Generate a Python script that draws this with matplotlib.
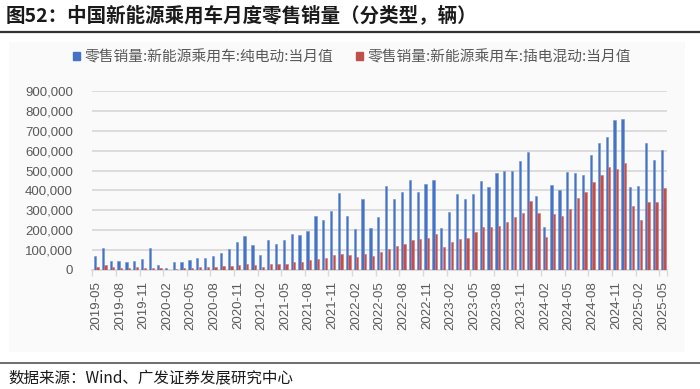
import matplotlib
matplotlib.use("Agg")
import matplotlib.pyplot as plt
from matplotlib.patches import Rectangle
from matplotlib.lines import Line2D
from matplotlib.ticker import FuncFormatter, FixedLocator
import numpy as np

plt.rcParams['font.family'] = ['Noto Sans CJK SC', 'DejaVu Sans']

# ---- data ----
months = []
for y in range(2019, 2026):
    for m in range(1, 13):
        if (y == 2019 and m < 5) or (y == 2025 and m > 5):
            continue
        months.append(f"{y}-{m:02d}")

bev = [70, 110, 47, 47, 42, 44, 53, 112,
       27, 8, 40, 38, 48, 62, 62, 72, 85, 106, 141, 169,
       124, 77, 152, 129, 152, 183, 174, 196, 273, 251, 298, 389,
       271, 204, 357, 209, 265, 420, 358, 394, 452, 394, 432, 452,
       211, 291, 382, 357, 383, 446, 417, 487, 496, 496, 548, 595,
       372, 216, 427, 402, 492, 489, 479, 576, 637, 668, 752, 757,
       415, 422, 640, 554, 601]
phev = [15, 23, 13, 12, 12, 13, 12, 12,
        8, 2, 7, 10, 12, 13, 13, 15, 18, 22, 23, 30,
        25, 13, 28, 28, 28, 40, 42, 49, 55, 59, 74, 80,
        75, 64, 82, 69, 89, 106, 121, 131, 152, 156, 161, 181,
        116, 142, 157, 161, 189, 214, 216, 221, 243, 268, 285, 345,
        288, 166, 280, 270, 307, 360, 394, 442, 476, 518, 508, 538,
        322, 253, 343, 342, 410]
bev = [v * 1000 for v in bev]
phev = [v * 1000 for v in phev]

series_names = ["零售销量:新能源乘用车:纯电动:当月值", "零售销量:新能源乘用车:插电混动:当月值"]
title = "图52：中国新能源乘用车月度零售销量（分类型，辆）"
source = "数据来源：Wind、广发证券发展研究中心"
yticks = list(range(0, 900001, 100000))

# ---- figure ----
W, H = 700, 389
fig = plt.figure(figsize=(W / 100, H / 100), dpi=100)
fig.patch.set_facecolor("white")

def fx(px): return px / W
def fy(py): return 1 - py / H

# faint panel
fig.patches.append(Rectangle((fx(9), fy(352)), fx(676), (352 - 42) / H,
                             transform=fig.transFigure, facecolor="#fafafa",
                             edgecolor="none", zorder=-5))
# lines
fig.add_artist(Line2D([0, 1], [fy(32), fy(32)], color="#333333", lw=1.6, transform=fig.transFigure))
fig.add_artist(Line2D([0, 1], [fy(362.5), fy(362.5)], color="#555555", lw=1.2, transform=fig.transFigure))

fig.text(fx(6), fy(16), title, fontsize=14, fontweight="bold", color="#1a1a1a",
         va="center", ha="left")
fig.text(fx(8), fy(379), source, fontsize=11.2, color="#1a1a1a", va="center", ha="left")

ax = fig.add_axes([fx(92.3), fy(270), fx(667 - 92.3), (270 - 91) / H], zorder=3)
ax.set_facecolor("none")

x = np.arange(len(months))
w = 0.29
blue = "#4472C4"
red = "#C0504D"
ax.bar(x - w / 2 - 0.02, bev, width=w, color=blue, edgecolor="#6d94d6", linewidth=0.4, zorder=3)
ax.bar(x + w / 2 + 0.02, phev, width=w, color=red, edgecolor="#d27572", linewidth=0.4, zorder=3)

ax.set_xlim(-0.5, len(months) - 0.5)
ax.set_ylim(0, 900000)
ax.set_yticks(yticks)
ax.yaxis.set_major_formatter(FuncFormatter(lambda v, p: f"{int(v):,}"))
ax.grid(axis="y", color="#d9d9d9", lw=1.3, zorder=0)
ax.set_axisbelow(True)

lab_idx = list(range(0, len(months), 3))
ax.set_xticks(lab_idx)
ax.set_xticklabels([months[i] for i in lab_idx], rotation=90, fontsize=9.5,
                   color="#595959", family=["Liberation Sans", "DejaVu Sans"])
ax.xaxis.set_minor_locator(FixedLocator([i - 0.5 for i in lab_idx] + [len(months) - 0.5]))
ax.tick_params(axis="x", which="major", length=0, pad=8)
ax.tick_params(axis="x", which="minor", length=4, color="#d9d9d9", width=1)
ax.tick_params(axis="y", length=0, pad=14, labelsize=9.5, labelcolor="#595959")
for t in ax.get_yticklabels():
    t.set_family(["Liberation Sans", "DejaVu Sans"])
for s in ["top", "right", "left"]:
    ax.spines[s].set_visible(False)
ax.spines["bottom"].set_color("#d9d9d9")
ax.spines["bottom"].set_linewidth(1.3)

# legend
handles = [Rectangle((0, 0), 1, 1, color=blue), Rectangle((0, 0), 1, 1, color=red)]
leg = fig.legend(handles, series_names, loc="center", bbox_to_anchor=(fx(352), fy(57)),
                 ncol=2, frameon=False, fontsize=10.6, handlelength=0.45, handleheight=0.45,
                 handletextpad=0.3, columnspacing=1.6, labelcolor="#595959")

fig.savefig("out.png", dpi=100)
